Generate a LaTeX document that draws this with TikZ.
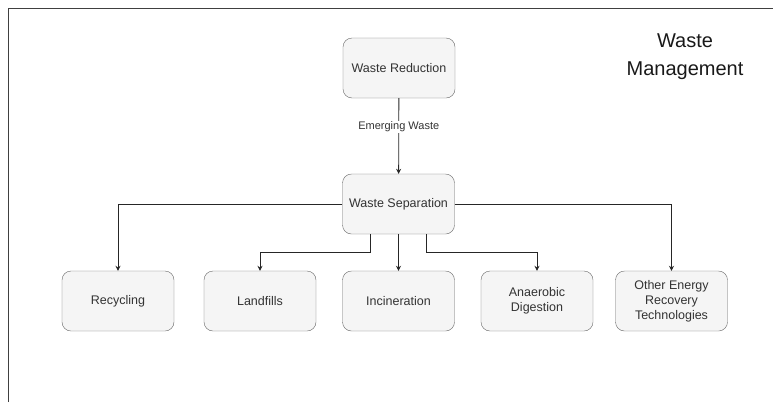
\documentclass[tikz,border=0pt]{standalone}
\usepackage{fontspec}
\setmainfont{Liberation Sans}
\usetikzlibrary{positioning,arrows.meta}
\definecolor{boxfill}{HTML}{F5F5F5}
\definecolor{boxline}{HTML}{666666}
\definecolor{boxtext}{HTML}{333333}
\tikzset{
wbox/.style={
  rectangle,
  rounded corners=9pt,
  draw=boxline,
  fill=boxfill,
  text=boxtext,
  minimum width=112pt,
  minimum height=60pt,
  align=center,
  font=\fontsize{12.5}{15}\selectfont
  },
flow/.style={
  draw=black!85,
  line width=0.8pt,
  -{Stealth[length=5pt,width=5pt]}
  }
}

\begin{document}
\begin{tikzpicture}[x=1pt,y=-1pt]
\useasboundingbox (0,0) rectangle (773,402);
% frame
\draw[black!75,line width=1pt] (8,402) -- (8,8) -- (773,8);

\node[font=\fontsize{20}{28}\selectfont,align=center,text=black!90]
  (title) at (685,57) {Waste\\Management};

\node[wbox] (reduc) at (399,68) {Waste Reduction};
\node[wbox] (sep) at (398.5,204) {Waste Separation};

\node[wbox] (recyc) at (118,301) {Recycling};
\node[wbox] (landf) at (260,301) {Landfills};
\node[wbox] (incin) at (398.5,301) {Incineration};
\node[wbox] (anaer) at (537,301) {Anaerobic\\Digestion};
\node[wbox] (other) at (671.5,301) {Other Energy\\Recovery\\Technologies};

\draw[flow] (reduc) -- node[fill=white,text=boxtext,
  font=\fontsize{11}{13}\selectfont,inner sep=1pt,pos=0.38] (emerg) {Emerging Waste} (sep);

\draw[flow] (sep.west) -| (recyc.north);
\draw[flow] (sep.east) -| (other.north);
\draw[flow] (sep) -- (incin);

\coordinate (lstart) at ([xshift=-28pt]sep.south);
\coordinate (astart) at ([xshift=28pt]sep.south);
\draw[flow] (lstart) -- ++(0,18) -| (landf.north);
\draw[flow] (astart) -- ++(0,18) -| (anaer.north);

\end{tikzpicture}
\end{document}
